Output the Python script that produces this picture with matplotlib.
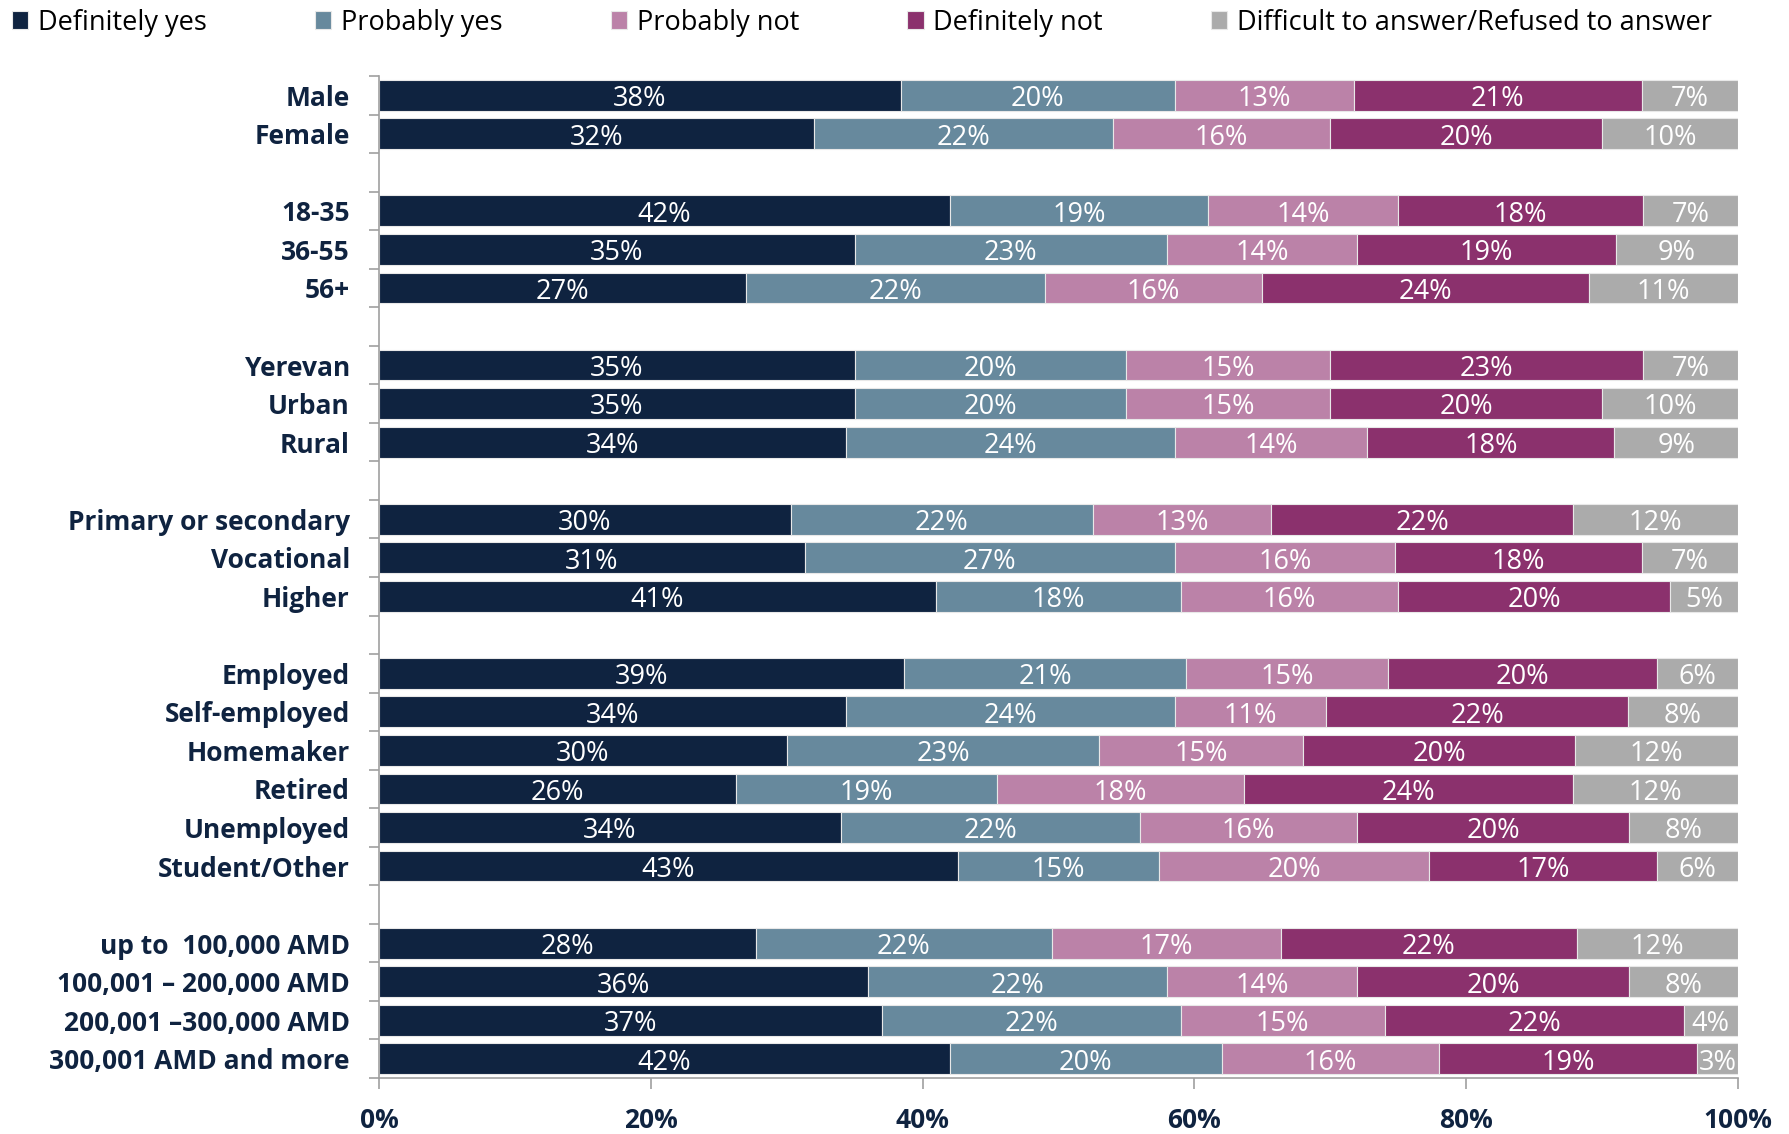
import matplotlib
matplotlib.use("Agg")
import matplotlib.pyplot as plt
import numpy as np
from matplotlib.font_manager import fontManager

names = {f.name for f in fontManager.ttflist}
fam = [f for f in ["Liberation Sans Narrow", "Open Sans", "DejaVu Sans"] if f in names]
plt.rcParams['font.family'] = fam

categories = ["Male", "Female", None,
              "18-35", "36-55", "56+", None,
              "Yerevan", "Urban", "Rural", None,
              "Primary or secondary", "Vocational", "Higher", None,
              "Employed", "Self-employed", "Homemaker", "Retired", "Unemployed", "Student/Other", None,
              "up to  100,000 AMD", "100,001 \u2013 200,000 AMD", "200,001 \u2013300,000 AMD", "300,001 AMD and more"]

series_names = ["Definitely yes", "Probably yes", "Probably not", "Definitely not",
                "Difficult to answer/Refused to answer"]

definitely_yes = [38, 32, 42, 35, 27, 35, 35, 34, 30, 31, 41, 39, 34, 30, 26, 34, 43, 28, 36, 37, 42]
probably_yes   = [20, 22, 19, 23, 22, 20, 20, 24, 22, 27, 18, 21, 24, 23, 19, 22, 15, 22, 22, 22, 20]
probably_not   = [13, 16, 14, 14, 16, 15, 15, 14, 13, 16, 16, 15, 11, 15, 18, 16, 20, 17, 14, 15, 16]
definitely_not = [21, 20, 18, 19, 24, 23, 20, 18, 22, 18, 20, 20, 22, 20, 24, 20, 17, 22, 20, 22, 19]
difficult      = [7, 10, 7, 9, 11, 7, 10, 9, 12, 7, 5, 6, 8, 12, 12, 8, 6, 12, 8, 4, 3]

colors = ["#0F2340", "#67899D", "#BB82A8", "#8B316D", "#ABABAB"]
navy = "#0F2340"

W, H = 1789, 1134
fig = plt.figure(figsize=(W / 100, H / 100), dpi=100)
ax = fig.add_axes([379 / W, 1 - 1078 / H, (1738 - 379) / W, (1078 - 76) / H])

data = np.array([definitely_yes, probably_yes, probably_not, definitely_not, difficult], dtype=float)
totals = data.sum(axis=0)
shares = data / totals * 100

ypos = [i for i, c in enumerate(categories) if c is not None]
left = np.zeros(len(ypos))
for k in range(5):
    ax.barh(ypos, shares[k], left=left, height=0.8, color=colors[k],
            edgecolor="#E8E8E8", linewidth=0.8, label=series_names[k])
    for y, l, w, v in zip(ypos, left, shares[k], data[k]):
        ax.text(l + w / 2, y + 0.1, f"{int(v)}%", ha="center", va="center",
                color="white", fontsize=19.5)
    left += shares[k]

ax.set_xlim(0, 100)
ax.set_ylim(len(categories) - 0.5, -0.5)
ax.set_xticks(np.arange(0, 101, 20))
ax.set_xticklabels([f"{v}%" for v in range(0, 101, 20)], fontsize=19,
                   fontweight="bold", color=navy)
ax.tick_params(axis="x", length=8, color="#A0A0A0", width=1.2, pad=13)

ax.set_yticks(np.arange(-0.5, len(categories), 1.0))
ax.set_yticklabels([])
ax.set_yticks(ypos, minor=True)
ax.set_yticklabels([c for c in categories if c is not None], minor=True,
                   fontsize=19, fontweight="bold", color=navy)
ax.tick_params(axis="y", which="major", length=7, color="#A0A0A0", width=1.2)
ax.tick_params(axis="y", which="minor", length=0, pad=21)

for s in ["top", "right"]:
    ax.spines[s].set_visible(False)
for s in ["left", "bottom"]:
    ax.spines[s].set_color("#A0A0A0")
    ax.spines[s].set_linewidth(1.2)

fig.legend(loc="upper left", bbox_to_anchor=(-0.003, 1.008), ncol=5, frameon=False,
           fontsize=19.5, handlelength=0.6, handleheight=0.6, handletextpad=0.35,
           columnspacing=4.0, borderaxespad=0.25)

fig.savefig("out.png", dpi=100)
